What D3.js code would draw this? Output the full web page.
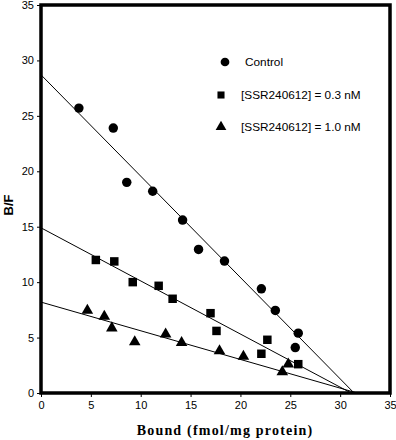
<!DOCTYPE html>
<html><head><meta charset="utf-8">
<script src="https://cdn.jsdelivr.net/npm/d3@7"></script>
<style>body{margin:0;background:#fff}</style>
</head><body>
<svg id="c" width="396" height="440"></svg>
<script>
const xTicks = [0,5,10,15,20,25,30,35];
const yTicks = [0,5,10,15,20,25,30,35];
const seriesNames = ["Control","[SSR240612] = 0.3 nM","[SSR240612] = 1.0 nM"];
const controlX = [3.8,7.25,8.6,11.2,14.2,15.8,18.4,22.1,23.5,25.5,25.8];
const controlY = [25.7,23.9,19.0,18.2,15.6,12.95,11.9,9.4,7.45,4.1,5.4];
const lowX = [5.5,7.35,9.2,11.8,13.2,17.0,17.6,22.7,22.1,25.8];
const lowY = [12.0,11.87,10.0,9.67,8.5,7.2,5.6,4.8,3.54,2.6];
const highX = [4.65,6.35,7.1,9.4,12.5,14.1,17.9,20.3,24.8,24.2];
const highY = [7.45,6.9,5.86,4.6,5.3,4.55,3.8,3.3,2.6,1.9];
const intercepts = [28.7,14.9,8.2];
const xIntercepts = [31.4,31.1,31.7];

const svg = d3.select("#c");
const x = d3.scaleLinear().domain([0,35]).range([41,390]);
const y = d3.scaleLinear().domain([0,35]).range([393,5]);

const xa = svg.append("g").attr("transform","translate(0,393)")
  .call(d3.axisBottom(x).tickValues(xTicks).tickSize(4).tickSizeOuter(0).tickPadding(4));
const ya = svg.append("g").attr("transform","translate(41,0)")
  .call(d3.axisLeft(y).tickValues(yTicks).tickSize(4).tickSizeOuter(0).tickPadding(3));
[xa,ya].forEach(g=>{
  g.select(".domain").remove();
  g.selectAll("text").attr("font-family","Arial, 'Liberation Sans', sans-serif").attr("font-size",11).attr("fill","#000");
  g.selectAll("line").attr("stroke","#000");
});

svg.append("rect").attr("x",x(0)).attr("y",y(35)).attr("width",x(35)-x(0)).attr("height",y(0)-y(35))
  .attr("fill","none").attr("stroke","#000").attr("stroke-width",3.5);

const lines = svg.append("g");
intercepts.forEach((b,i)=>{
  lines.append("line").attr("x1",x(0)).attr("y1",y(b)).attr("x2",x(xIntercepts[i])).attr("y2",y(0))
    .attr("stroke","#000").attr("stroke-width",1);
});

const sym = [d3.symbolCircle, d3.symbolSquare, d3.symbolTriangle];
const sizes = [70, 72, 58];
const data = [[controlX,controlY],[lowX,lowY],[highX,highY]];
data.forEach(([xs,ys],i)=>{
  svg.append("g").selectAll("path").data(xs).join("path")
    .attr("transform",(d,j)=>`translate(${x(d)},${y(ys[j])})`)
    .attr("d",d3.symbol().type(sym[i]).size(sizes[i])).attr("fill","#000");
});

const leg = svg.append("g");
const legX = [225,221,221], legY = [62,95,127], txtX = [245,241,241];
seriesNames.forEach((n,i)=>{
  leg.append("path").attr("transform",`translate(${legX[i]},${legY[i]})`)
    .attr("d",d3.symbol().type(sym[i]).size(i==0?60:50)).attr("fill","#000");
  leg.append("text").attr("x",txtX[i]).attr("y",legY[i]+4).text(n)
    .attr("font-family","Arial, 'Liberation Sans', sans-serif").attr("font-size",11.8);
});

svg.append("text").attr("transform","translate(13,205) rotate(-90)").attr("text-anchor","middle")
  .attr("font-family","Arial, 'Liberation Sans', sans-serif").attr("font-weight","bold").attr("font-size",13).text("B/F");
svg.append("text").attr("x",225).attr("y",435).attr("text-anchor","middle")
  .attr("font-family","'Times New Roman', 'Liberation Serif', serif").attr("font-weight","bold").attr("font-size",14)
  .attr("letter-spacing","1.2").text("Bound (fmol/mg protein)");
</script>
</body></html>
